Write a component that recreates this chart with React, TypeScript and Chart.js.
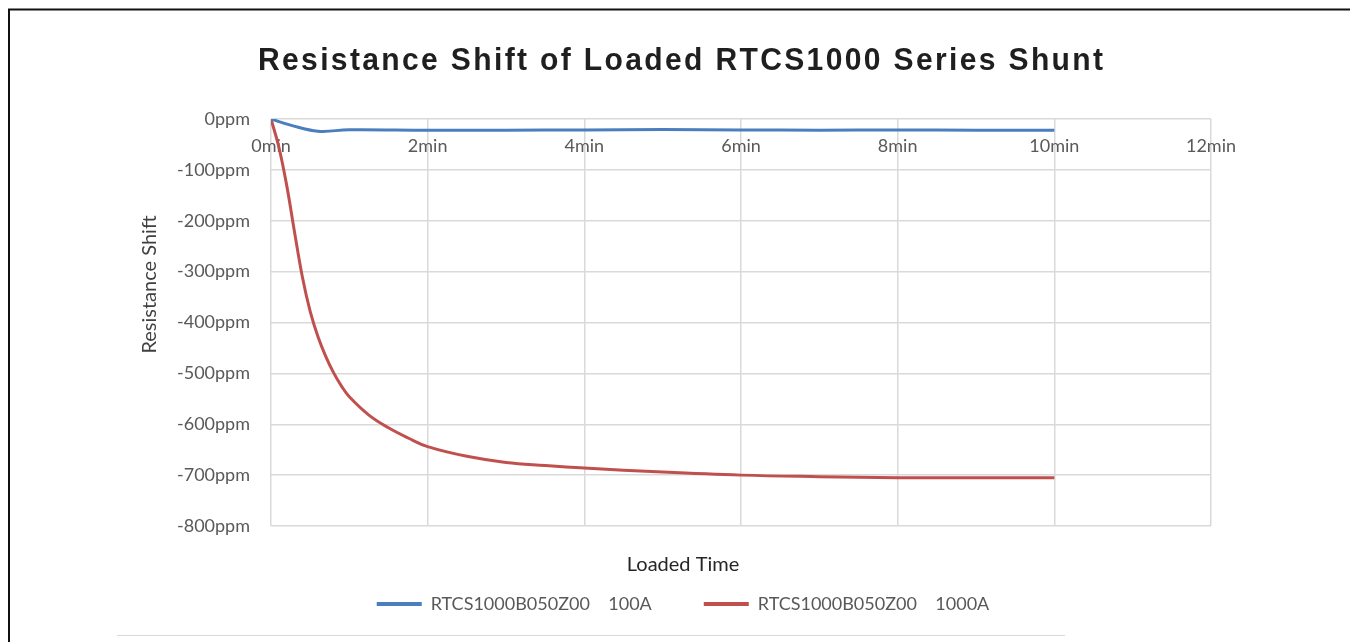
import { useEffect, useRef } from 'react';
import { Chart, registerables } from 'chart.js';

Chart.register(...registerables);

const TITLE = 'Resistance Shift of Loaded RTCS1000 Series Shunt';
const X_TITLE = 'Loaded Time';
const Y_TITLE = 'Resistance Shift';
const SERIES_NAMES = ['RTCS1000B050Z00    100A', 'RTCS1000B050Z00    1000A'];
const SERIES_COLORS = ['#4a7ebf', '#c0504d'];

// loaded time (min) and resistance shift (ppm)
const TIME_100A = [0, 0.25, 0.6, 1, 2, 3, 4, 5, 6, 7, 8, 9, 10];
const SHIFT_100A = [0, -12, -24, -21, -22, -22, -21.5, -20.5, -21.5, -22, -21.5, -22, -22];
const TIME_1000A = [0, 0.1, 0.2, 0.3, 0.4, 0.5, 0.6, 0.7, 0.8, 0.9, 1, 1.25, 1.5, 1.75, 2, 2.5, 3, 3.5, 4, 5, 6, 7, 8, 9, 10];
const SHIFT_1000A = [0, -55, -130, -222, -310, -378, -428, -467, -499, -525, -546, -582, -607, -627, -644, -663, -675, -681, -686, -694, -700, -703, -705, -705, -705];

const X_MIN = 0;
const X_MAX = 12;
const X_STEP = 2;
const Y_MIN = -800;
const Y_MAX = 0;
const Y_STEP = 100;

const FONT = 'Lato';

function toPoints(xs: number[], ys: number[]) {
  return xs.map((x, i) => ({ x, y: ys[i] }));
}

const decorPlugin = {
  id: 'decor',
  beforeDraw(chart: any) {
    const { ctx, width, height } = chart;
    ctx.save();
    ctx.fillStyle = '#ffffff';
    ctx.fillRect(0, 0, width, height);
    ctx.restore();
  },
  afterDraw(chart: any) {
    const { ctx, width, height } = chart;
    ctx.save();
    // frame
    ctx.strokeStyle = '#111111';
    ctx.lineWidth = 2;
    ctx.beginPath();
    ctx.moveTo(1, height + 5);
    ctx.lineTo(1, 1.5);
    ctx.lineTo(width - 1, 1.5);
    ctx.lineTo(width - 1, height + 5);
    ctx.stroke();
    // faint bottom rule
    ctx.strokeStyle = '#d9d9d9';
    ctx.lineWidth = 1;
    ctx.beginPath();
    ctx.moveTo(109, 627.5);
    ctx.lineTo(1057, 627.5);
    ctx.stroke();

    // main title: condensed bold with letter spacing
    ctx.save();
    ctx.font = `bold 32px "Liberation Sans", Arial, sans-serif`;
    ctx.fillStyle = '#1f1f1f';
    ctx.textBaseline = 'alphabetic';
    ctx.textAlign = 'left';
    const targetW = 845;
    const ls = 2.5;
    (ctx as any).letterSpacing = '0px';
    const w0 = ctx.measureText(TITLE).width;
    const sx = targetW / (w0 + ls * (TITLE.length - 1));
    (ctx as any).letterSpacing = `${ls}px`;
    ctx.translate(672.5 - targetW / 2, 62);
    ctx.scale(sx, 1);
    ctx.fillText(TITLE, 0, 0);
    (ctx as any).letterSpacing = '0px';
    ctx.restore();

    // y-axis title
    ctx.font = `20px ${FONT}, sans-serif`;
    ctx.fillStyle = '#404040';
    ctx.textAlign = 'center';
    ctx.textBaseline = 'middle';
    ctx.translate(141.5, 276.5);
    ctx.rotate(-Math.PI / 2);
    ctx.fillText(Y_TITLE, 0, 0);
    ctx.restore();
  },
};

export default function App() {
  const canvasRef = useRef<HTMLCanvasElement | null>(null);

  useEffect(() => {
    let chart: Chart | null = null;
    let cancelled = false;
    const make = () => {
      if (cancelled || !canvasRef.current) return;
      chart = new Chart(canvasRef.current, {
        type: 'line',
        data: {
          datasets: [
            {
              label: SERIES_NAMES[0],
              data: toPoints(TIME_100A, SHIFT_100A),
              borderColor: SERIES_COLORS[0],
              backgroundColor: SERIES_COLORS[0],
              borderWidth: 3,
              pointRadius: 0,
              tension: 0.4,
              fill: false,
            },
            {
              label: SERIES_NAMES[1],
              data: toPoints(TIME_1000A, SHIFT_1000A),
              borderColor: SERIES_COLORS[1],
              backgroundColor: SERIES_COLORS[1],
              borderWidth: 3,
              pointRadius: 0,
              tension: 0.4,
              fill: false,
            },
          ],
        },
        options: {
          responsive: true,
          maintainAspectRatio: false,
          animation: false,
          layout: { padding: { top: 111, left: 0, right: 0, bottom: 19 } },
          plugins: {
            title: { display: false },
            tooltip: { enabled: false },
            legend: {
              display: true,
              position: 'bottom',
              title: {
                display: true,
                text: X_TITLE,
                color: '#262626',
                font: { family: FONT, size: 20 },
                padding: { top: 29, bottom: -36 },
              },
              labels: {
                font: { family: FONT, size: 18 },
                color: '#595959',
                boxWidth: 45,
                boxHeight: 4,
                padding: 52,
                generateLabels: (c: any) =>
                  c.data.datasets.map((ds: any, i: number) => ({
                    text: ds.label,
                    fillStyle: ds.borderColor,
                    strokeStyle: ds.borderColor,
                    lineWidth: 0,
                    hidden: false,
                    datasetIndex: i,
                    fontColor: '#595959',
                  })),
              },
            },
          },
          scales: {
            x: {
              type: 'linear',
              position: { y: 0 } as any,
              min: X_MIN,
              max: X_MAX,
              ticks: {
                stepSize: X_STEP,
                padding: 16,
                color: '#595959',
                font: { family: FONT, size: 18 },
                callback: (v: any) => `${v}min`,
                maxRotation: 0,
              },
              grid: { color: '#d9d9d9', lineWidth: 1.5, drawTicks: false },
              border: { display: false },
            },
            y: {
              type: 'linear',
              position: 'left',
              min: Y_MIN,
              max: Y_MAX,
              ticks: {
                stepSize: Y_STEP,
                padding: 21,
                color: '#595959',
                font: { family: FONT, size: 18 },
                callback: (v: any) => `${v}ppm`,
              },
              grid: { color: '#d9d9d9', lineWidth: 1.5, drawTicks: false },
              border: { display: false },
              afterFit: (s: any) => {
                s.width = 263;
              },
            },
            yRight: {
              type: 'linear',
              position: 'right',
              display: true,
              ticks: { display: false },
              grid: { display: false, drawTicks: false },
              border: { display: false },
              afterFit: (s: any) => {
                s.width = 147;
              },
            },
          },
        },
        plugins: [decorPlugin],
      });
    };
    if ((document as any).fonts && (document as any).fonts.load) {
      Promise.all([
        (document as any).fonts.load(`18px ${FONT}`),
        (document as any).fonts.load(`bold 32px "Liberation Sans"`),
      ])
        .catch(() => null)
        .then(make);
    } else {
      make();
    }
    return () => {
      cancelled = true;
      if (chart) chart.destroy();
    };
  }, []);

  return (
    <div style={{ width: 1350, height: 634, position: 'relative' }}>
      <canvas ref={canvasRef} />
    </div>
  );
}
